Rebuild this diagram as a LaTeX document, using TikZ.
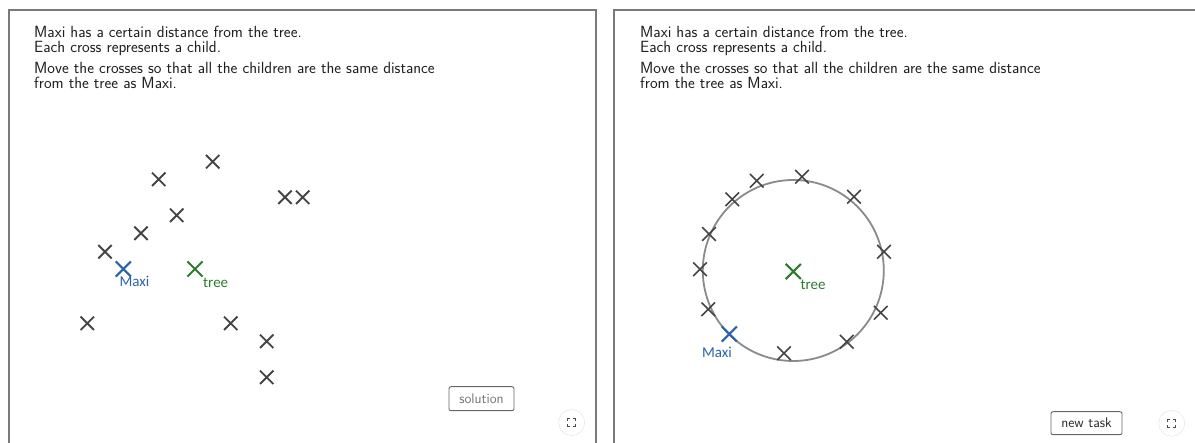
\documentclass[tikz,border=0pt]{standalone}
\usepackage{fontspec}
\newfontfamily\lblfont{Carlito}
\usetikzlibrary{shapes.misc,calc}
\definecolor{panelgray}{HTML}{7A7A7A}
\definecolor{crossgray}{HTML}{444444}
\definecolor{maxiblue}{HTML}{2A62A8}
\definecolor{treegreen}{HTML}{2E7A30}
\definecolor{circgray}{HTML}{8A8A8A}
\tikzset{
  child/.style={cross out, draw=crossgray, line width=1.9pt, minimum size=11.5pt, inner sep=0pt},
  ringchild/.style={cross out, draw=crossgray, line width=1.6pt, minimum size=12pt, inner sep=0pt},
  maxicross/.style={cross out, draw=maxiblue, line width=2.1pt, minimum size=13pt, inner sep=0pt},
  treecross/.style={cross out, draw=treegreen, line width=2.1pt, minimum size=13pt, inner sep=0pt},
  txt/.style={anchor=base west, inner sep=0pt, font=\sffamily\fontsize{16.2}{18}\selectfont, text=black!88},
  maxilbl/.style={text=maxiblue, font=\lblfont\fontsize{15}{17}\selectfont, inner sep=0pt},
  treelbl/.style={text=treegreen, font=\lblfont\fontsize{15}{17}\selectfont, inner sep=0pt},
  btn/.style={draw=black!60, line width=0.9pt, rounded corners=2pt, inner sep=0pt, font=\sffamily\fontsize{14}{16}\selectfont},
  fsbtn/.style={circle, draw=black!12, fill=white, minimum size=26pt, inner sep=0pt},
  panel/.style={draw=panelgray, line width=1.2pt}
}
\begin{document}
\begin{tikzpicture}[x=1pt,y=-1pt]
\useasboundingbox (0,0) rectangle (1195,443);
\clip (0,0) rectangle (1195,443);
% panels
\draw[panel] (9,460) -- (9,10) -- (596,10) -- (596,460);
\draw[panel] (614,460) -- (614,10) -- (1200,10);
% left text
\node[txt] (l1) at (34,38) {Maxi has a certain distance from the tree.};
\node[txt] (l2) at (34,53) {Each cross represents a child.};
\node[txt] (l3) at (34,74) {Move the crosses so that all the children are the same distance};
\node[txt] (l4) at (34,89) {from the tree as Maxi.};
% right text
\node[txt] (r1) at (640,38) {Maxi has a certain distance from the tree.};
\node[txt] (r2) at (640,53) {Each cross represents a child.};
\node[txt] (r3) at (640,74) {Move the crosses so that all the children are the same distance};
\node[txt] (r4) at (640,89) {from the tree as Maxi.};
% left crosses
\node[child] (a1) at (212.7,161.7) {};
\node[child] (a2) at (158.7,179.3) {};
\node[child] (a3) at (285,197.3) {};
\node[child] (a4) at (302.7,197.3) {};
\node[child] (a5) at (176.7,215.3) {};
\node[child] (a6) at (141,233.3) {};
\node[child] (a7) at (105,251.7) {};
\node[child] (a8) at (87.3,323.3) {};
\node[child] (a9) at (230.7,323.3) {};
\node[child] (a10) at (266.7,341.3) {};
\node[child] (a11) at (266.7,377.3) {};
\node[maxicross] (lmaxi) at (123.3,269) {};
\node[treecross] (ltree) at (195,269) {};
\node[maxilbl] (lmaxilbl) at (134.5,281.5) {Maxi};
\node[treelbl] (ltreelbl) at (215.7,283) {tree};
% buttons left
\node[btn, minimum width=65pt, minimum height=24pt, text=black!55] (sol) at (481.5,398.7) {solution};
\node[fsbtn] (fsl) at (571.7,422.5) {};
\foreach \sx/\sy in {-1/-1,1/-1,-1/1,1/1}{
  \draw[black!70, line width=0.9pt] ($(fsl)+(\sx*4,\sy*1.5)$) -- ($(fsl)+(\sx*4,\sy*4)$) -- ($(fsl)+(\sx*1.5,\sy*4)$);
}
% right circle
\node[circle, draw=circgray, line width=1.8pt, minimum size=181pt, inner sep=0pt] (ring) at (793.3,270.5) {};
\node[ringchild] (b1) at (756.7,180.7) {};
\node[ringchild] (b2) at (802,176.7) {};
\node[ringchild] (b3) at (732.3,199.3) {};
\node[ringchild] (b4) at (854,196.7) {};
\node[ringchild] (b5) at (709,234) {};
\node[ringchild] (b6) at (884,251.7) {};
\node[ringchild] (b7) at (700,269.3) {};
\node[ringchild] (b8) at (708.3,309.3) {};
\node[ringchild] (b9) at (880.7,312.7) {};
\node[ringchild] (b10) at (846.7,341.7) {};
\node[ringchild] (b11) at (784,353.3) {};
\node[maxicross] (rmaxi) at (729.3,334) {};
\node[treecross] (rtree) at (793.3,271.5) {};
\node[maxilbl] (rmaxilbl) at (717,352.5) {Maxi};
\node[treelbl] (rtreelbl) at (813,285) {tree};
% buttons right
\node[btn, minimum width=71pt, minimum height=23pt, text=black!85] (nt) at (1086.5,423.2) {new task};
\node[fsbtn] (fsr) at (1171.7,423.3) {};
\foreach \sx/\sy in {-1/-1,1/-1,-1/1,1/1}{
  \draw[black!70, line width=0.9pt] ($(fsr)+(\sx*4,\sy*1.5)$) -- ($(fsr)+(\sx*4,\sy*4)$) -- ($(fsr)+(\sx*1.5,\sy*4)$);
}
\end{tikzpicture}
\end{document}
